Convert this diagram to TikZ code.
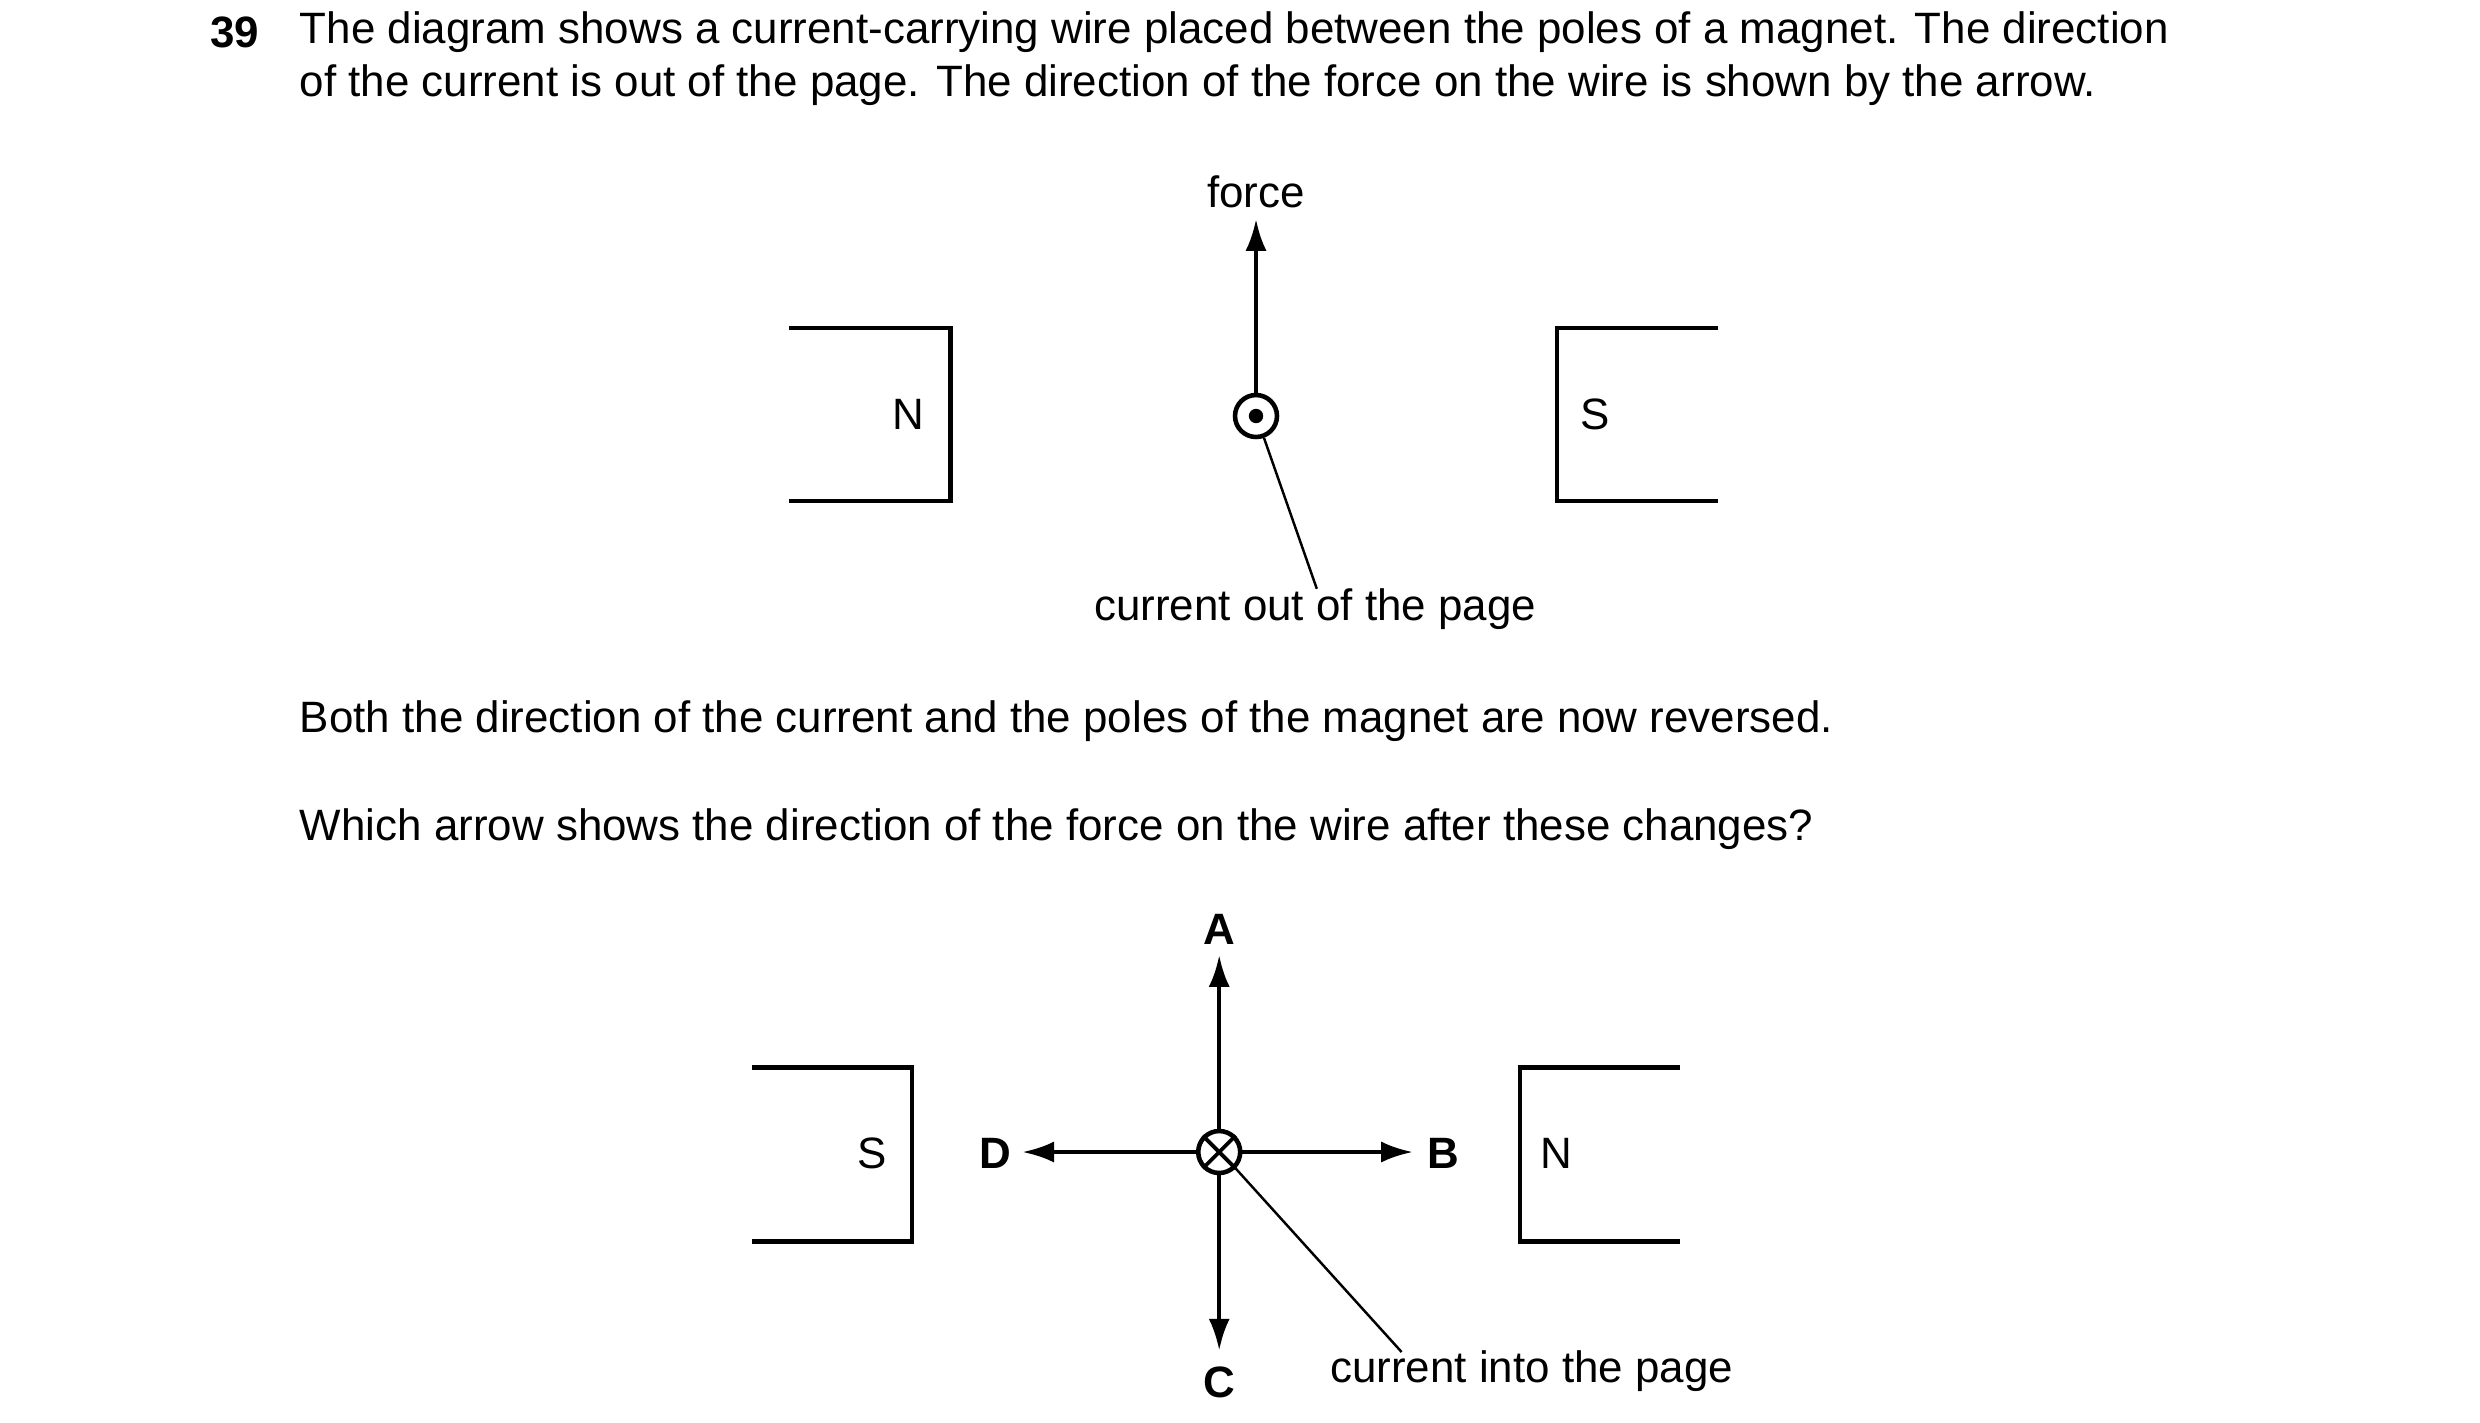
\documentclass[tikz,border=0pt]{standalone}
\usepackage{fontspec}
\setmainfont{Liberation Sans}
\usetikzlibrary{arrows.meta, positioning}
\tikzset{magnetline/.style={draw=black, line width=1.3pt},
  forcearrow/.style={line width=1.2pt, -{Latex[length=9pt, width=6pt]}},
  leaderline/.style={line width=0.7pt},
  wirenode/.style={circle, draw=black, line width=1.3pt, minimum size=0.42cm, inner sep=0pt},
  qtext/.style={font=\fontsize{12.5pt}{15pt}\selectfont, anchor=west, inner sep=0pt},
  labeltext/.style={font=\fontsize{12.5pt}{15pt}\selectfont, inner sep=0pt}}

\begin{document}
\begin{tikzpicture}[x=0.016cm, y=-0.016cm]
        \useasboundingbox (0,0) rectangle (1550,889);
        % Question text
        \node[qtext, font=\fontsize{12.5pt}{15pt}\selectfont\bfseries] (qnum) at (131,20) {39};
        \node[qtext] (line1) at (187,20) {The diagram shows a current-carrying wire placed between the poles of a magnet. The direction};
        \node[qtext] (line2) at (187,53) {of the current is out of the page. The direction of the force on the wire is shown by the arrow.};
        % First magnet
        \draw[magnetline] (493,205) -- (594,205) -- (594,313) -- (493,313);
        \draw[magnetline] (1074,205) -- (973,205) -- (973,313) -- (1074,313);
        \node[labeltext] (northA) at (568,259) {N};
        \node[labeltext] (southA) at (997,259) {S};
        % Wire, force
        \node[wirenode] (wireA) at (785,260) {};
        \fill (wireA.center) circle (4.5);
        \node[labeltext] (force) at (785,120) {force};
        \coordinate (forcetip) at (785,137);
        \draw[forcearrow] (wireA.north) -- (forcetip);
        \node[labeltext] (outpage) at (822,381) {current out of the page};
        \coordinate (outend) at (823,368);
        \draw[leaderline] (wireA.-70) -- (outend);
        % Question
        \node[qtext] (line3) at (187,451) {Both the direction of the current and the poles of the magnet are now reversed.};
        \node[qtext] (line4) at (187,518) {Which arrow shows the direction of the force on the wire after these changes?};
        % Second magnet
        \draw[magnetline] (470,667) -- (570,667) -- (570,776) -- (470,776);
        \draw[magnetline] (1050,667) -- (950,667) -- (950,776) -- (1050,776);
        \node[labeltext] (southB) at (545,721) {S};
        \node[labeltext] (northB) at (973,721) {N};
        % Wire, options
        \node[wirenode] (wireB) at (762,720) {};
        \draw[line width=1.1pt] (wireB.45) -- (wireB.225) (wireB.135) -- (wireB.-45);
        \node[labeltext, font=\fontsize{12.5pt}{15pt}\selectfont\bfseries] (optA) at (762,581) {A};
        \node[labeltext, font=\fontsize{12.5pt}{15pt}\selectfont\bfseries] (optB) at (902,721) {B};
        \node[labeltext, font=\fontsize{12.5pt}{15pt}\selectfont\bfseries] (optC) at (762,864) {C};
        \node[labeltext, font=\fontsize{12.5pt}{15pt}\selectfont\bfseries] (optD) at (622,721) {D};
        \coordinate (tipA) at (762,597);
        \coordinate (tipB) at (883,720);
        \coordinate (tipC) at (762,844);
        \coordinate (tipD) at (639,720);
        \draw[forcearrow] (wireB.north) -- (tipA);
        \draw[forcearrow] (wireB.east) -- (tipB);
        \draw[forcearrow] (wireB.south) -- (tipC);
        \draw[forcearrow] (wireB.west) -- (tipD);
        \node[labeltext, anchor=west] (inpage) at (831,857) {current into the page};
        \coordinate (inend) at (876,845);
        \draw[leaderline] (wireB.-45) -- (inend);
\end{tikzpicture}
\end{document}
